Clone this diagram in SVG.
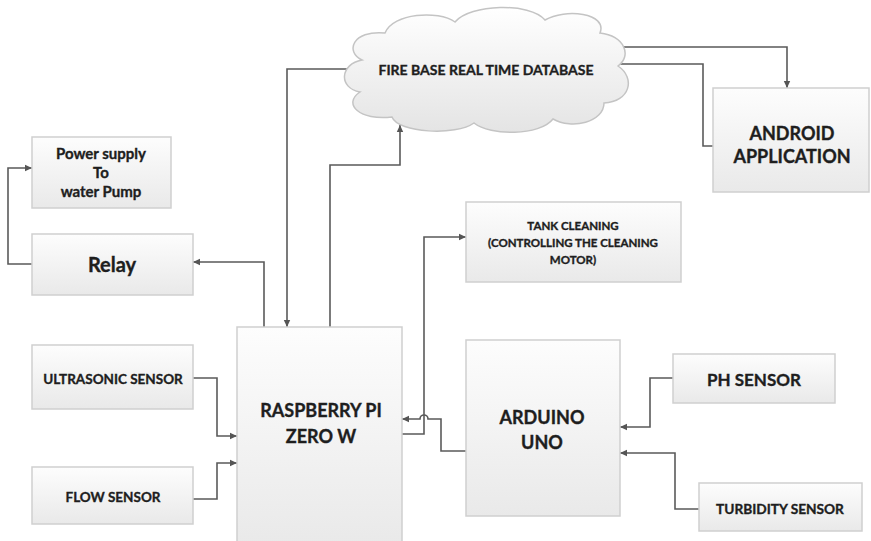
<svg xmlns="http://www.w3.org/2000/svg" width="871" height="541" viewBox="0 0 871 541">
<defs>
<linearGradient id="g" x1="0" y1="0" x2="0" y2="1">
<stop offset="0" stop-color="#fdfdfd"/>
<stop offset="1" stop-color="#e9e9e9"/>
</linearGradient>
<linearGradient id="gc" x1="0" y1="0" x2="0" y2="1">
<stop offset="0" stop-color="#ffffff"/>
<stop offset="1" stop-color="#e4e4e4"/>
</linearGradient>
<marker id="a" markerUnits="userSpaceOnUse" markerWidth="8" markerHeight="8" refX="7" refY="4" orient="auto">
<path d="M0,0.8 L7,4 L0,7.2 z" fill="#555"/>
</marker>
<style>
.box{fill:url(#g);stroke:#cfcfcf;stroke-width:1.5}
.t{font-family:Lato,"Open Sans","Liberation Sans",sans-serif;font-weight:bold;fill:#1e1e1e;stroke:#1e1e1e;stroke-width:0.35;text-anchor:middle;dominant-baseline:central}
.c{fill:none;stroke:#5a5a5a;stroke-width:1.6;marker-end:url(#a)}
</style>
</defs>
<rect width="871" height="541" fill="#ffffff"/>

<g id="connectors">
<path class="c" d="M32,264 H8 V168 H32"/>
<path class="c" d="M264,327 V262 H193"/>
<path class="c" d="M348,69 H287 V327"/>
<path class="c" d="M330,327 V165 H400 V125"/>
<path class="c" d="M623,47 H787 V88"/>
<path class="c" d="M713,146 H703 V64 H612"/>
<path class="c" d="M402,434 H424 V237 H466"/>
<path class="c" d="M466,451 H441 V419 H428 A4,4 0 0 0 420,419 H402"/>
<path class="c" d="M673,378 H650 V427 H620"/>
<path class="c" d="M699,509 H675 V453 H620"/>
<path class="c" d="M193,378 H217 V436 H237"/>
<path class="c" d="M193,499 H217 V463 H237"/>
</g>

<g id="firebase">
<path d="M362,60 C345,52 352,30 385,33 C393,13 438,10 455,22 C470,4 530,2 545,20 C565,8 608,13 600,33 C625,36 632,56 618,66 C636,78 630,102 604,103 C604,122 572,130 553,119 C540,136 490,136 474,123 C456,136 398,133 392,117 C360,121 342,104 360,92 C338,88 340,64 362,60 Z" fill="url(#gc)" stroke="#c4c4c4" stroke-width="1.5"/>
<text class="t" x="486" y="69" font-size="14">FIRE BASE REAL TIME DATABASE</text>
</g>

<g id="android">
<rect class="box" x="713" y="88" width="156" height="104"/>
<text class="t" x="792" y="133" font-size="18">ANDROID</text>
<text class="t" x="792" y="156" font-size="18">APPLICATION</text>
</g>

<g id="power">
<rect class="box" x="32" y="137" width="139" height="71"/>
<text class="t" x="101" y="153" font-size="15">Power supply</text>
<text class="t" x="101" y="172" font-size="15">To</text>
<text class="t" x="101" y="191" font-size="15">water Pump</text>
</g>

<g id="relay">
<rect class="box" x="32" y="234" width="161" height="61"/>
<text class="t" x="112" y="264" font-size="20">Relay</text>
</g>

<g id="tank">
<rect class="box" x="466" y="202" width="215" height="80"/>
<text class="t" x="573" y="225" font-size="11.5">TANK CLEANING</text>
<text class="t" x="573" y="242" font-size="11.5">(CONTROLLING THE CLEANING</text>
<text class="t" x="573" y="259" font-size="11.5">MOTOR)</text>
</g>

<g id="raspberry">
<rect class="box" x="237" y="327" width="165" height="220"/>
<text class="t" x="321" y="410" font-size="18">RASPBERRY PI</text>
<text class="t" x="321" y="436" font-size="18">ZERO W</text>
</g>

<g id="arduino">
<rect class="box" x="466" y="340" width="154" height="176"/>
<text class="t" x="542" y="417" font-size="18">ARDUINO</text>
<text class="t" x="542" y="442" font-size="18">UNO</text>
</g>

<g id="ultrasonic">
<rect class="box" x="32" y="345" width="161" height="64"/>
<text class="t" x="113" y="379" font-size="13.5">ULTRASONIC SENSOR</text>
</g>

<g id="flow">
<rect class="box" x="32" y="467" width="161" height="57"/>
<text class="t" x="113" y="497" font-size="13.5">FLOW SENSOR</text>
</g>

<g id="ph">
<rect class="box" x="673" y="354" width="162" height="49"/>
<text class="t" x="754" y="379" font-size="17">PH SENSOR</text>
</g>

<g id="turbidity">
<rect class="box" x="699" y="483" width="163" height="48"/>
<text class="t" x="780" y="508" font-size="13.7">TURBIDITY SENSOR</text>
</g>
</svg>
